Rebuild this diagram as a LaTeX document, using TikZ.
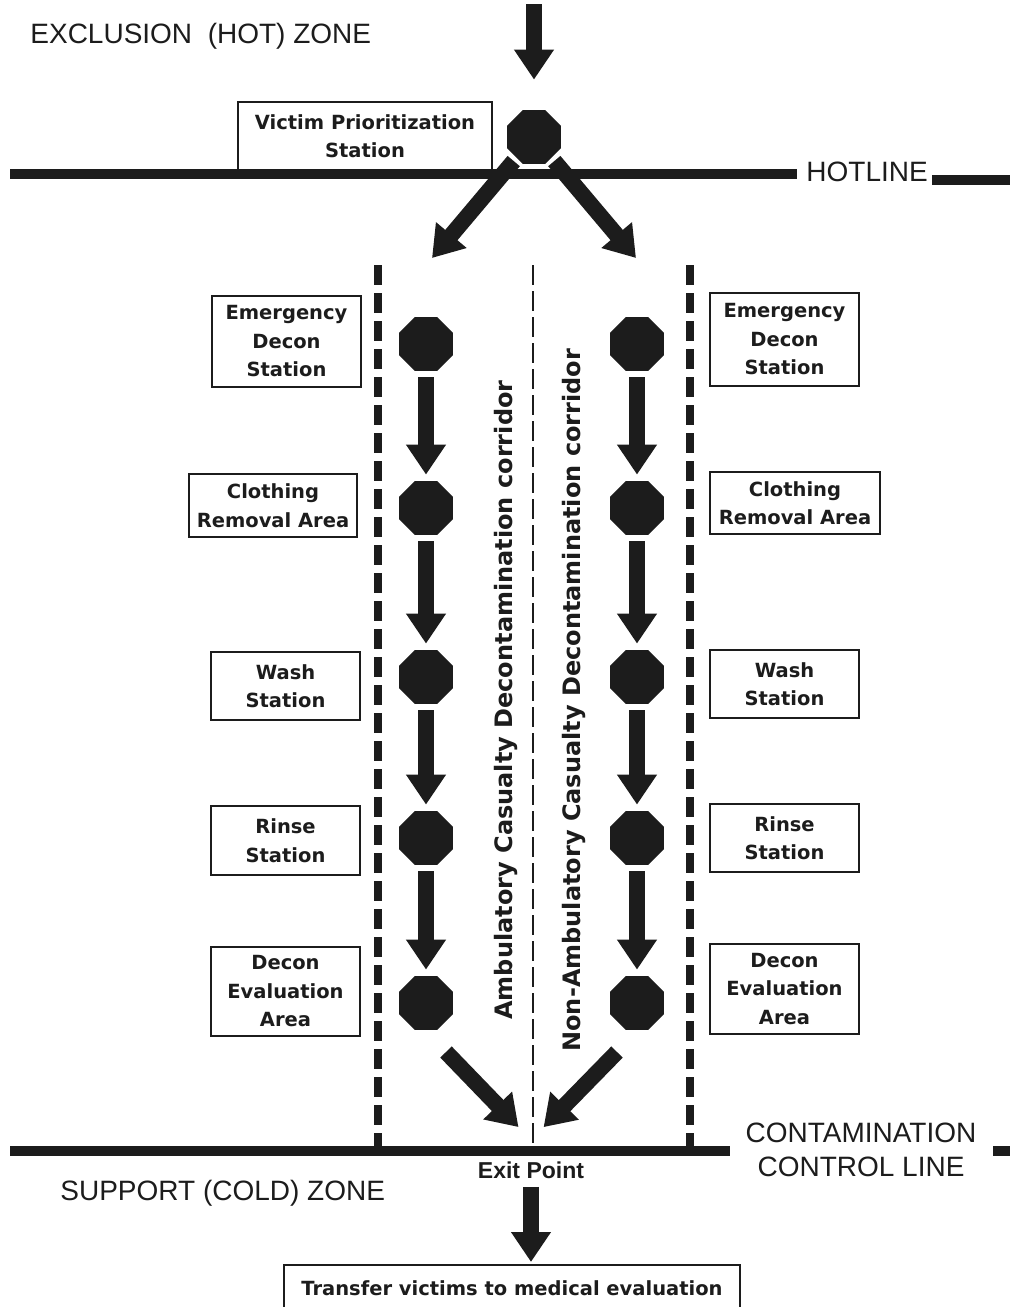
\documentclass[tikz,border=0pt]{standalone}
\usepackage{fontspec}
\setmainfont{Liberation Sans}
\newfontfamily\stationfont{DejaVu Sans}
\usepackage{xcolor}
\definecolor{ink}{HTML}{1C1C1C}
\usetikzlibrary{shapes.geometric,arrows.meta}

\begin{document}
\begin{tikzpicture}[
    x=0.5pt, y=-0.5pt,                   % one unit = one pixel, y down
    every node/.style={text=ink},
    zone/.style={inner sep=0pt, font=\fontsize{14}{17}\selectfont},
    station/.style={
        draw=ink,
        line width=0.8pt,
        inner sep=0pt,
        align=center,
        font=\stationfont\bfseries\fontsize{9.75}{14.25}\selectfont
    },
    octa/.style={regular polygon, regular polygon sides=8, fill=ink,
        draw=none, minimum size=29.2pt, inner sep=0pt},
    flow/.style={draw=ink, line width=8pt, -{Triangle[width=19pt,length=15pt]}},
    lane/.style={flow, shorten <=3pt, shorten >=3pt},
    barrier/.style={draw=ink, line width=5pt},
    fence/.style={draw=ink, line width=4pt, dash pattern=on 10pt off 4pt},
    corridor/.style={rotate=90, anchor=base west, inner sep=0pt,
        font=\stationfont\bfseries\fontsize{12}{14}\selectfont}
]
\useasboundingbox (0,0) rectangle (1010,1307);

% hot zone and hotline
\node[zone, anchor=base west] (hotzone) at (30,43) {EXCLUSION\ \ (HOT) ZONE};
\draw[barrier] (10,174) -- (797,174);
\node[zone, anchor=base west] (hotline) at (806,181) {HOTLINE};
\draw[barrier] (932,180) -- (1010,180);

\node[station, minimum width=127pt, minimum height=34pt] (vpbox) at (365,136)
    {Victim Prioritization\\Station};
\node[octa] (vp) at (534,137) {};
\coordinate (entry) at (534,4);
\coordinate (ambin) at (432,258);
\coordinate (nonin) at (636,258);
\draw[flow, shorten >=15pt] (entry) -- (vp);
\draw[flow, shorten <=2pt] (vp) -- (ambin);
\draw[flow, shorten <=2pt] (vp) -- (nonin);

% corridor fences
\draw[fence] (378,265) -- (378,1148);
\draw[fence] (690,265) -- (690,1148);
\draw[draw=ink, line width=1pt, dash pattern=on 10pt off 3pt] (533,265) -- (533,1150);

\node[corridor] (ambtxt) at (512,1020) {Ambulatory Casualty Decontamination corridor};
\node[corridor] (nonambtxt) at (580,1052) {Non-Ambulatory Casualty Decontamination corridor};

% stations of both lanes
\foreach \y [count=\i] in {344,508,677,838,1003} {
    \node[octa] (l\i) at (426,\y) {};
    \node[octa] (r\i) at (637,\y) {};
}
\foreach \i/\j in {1/2,2/3,3/4,4/5} {
    \draw[lane] (l\i) -- (l\j);
    \draw[lane] (r\i) -- (r\j);
}

% left labels
\node[station, minimum width=74.5pt, minimum height=45.5pt] (lemerg) at (286.5,341.5)
    {Emergency\\Decon\\Station};
\node[station, minimum width=84pt, minimum height=31.5pt] (lcloth) at (273,505.5)
    {Clothing\\Removal Area};
\node[station, minimum width=74.5pt, minimum height=34pt] (lwash) at (285.5,686)
    {Wash\\Station};
\node[station, minimum width=74.5pt, minimum height=34.5pt] (lrinse) at (285.5,840.5)
    {Rinse\\Station};
\node[station, minimum width=74.5pt, minimum height=44.5pt] (leval) at (285.5,991.5)
    {Decon\\Evaluation\\Area};

% right labels
\node[station, minimum width=74.5pt, minimum height=46.5pt] (remerg) at (784.5,339.5)
    {Emergency\\Decon\\Station};
\node[station, minimum width=85pt, minimum height=31pt] (rcloth) at (795,503)
    {Clothing\\Removal Area};
\node[station, minimum width=74.5pt, minimum height=34pt] (rwash) at (784.5,684)
    {Wash\\Station};
\node[station, minimum width=74.5pt, minimum height=34pt] (rrinse) at (784.5,838)
    {Rinse\\Station};
\node[station, minimum width=74.5pt, minimum height=45pt] (reval) at (784.5,989)
    {Decon\\Evaluation\\Area};

% exit
\coordinate (ambout) at (446,1052);
\coordinate (nonout) at (617,1052);
\coordinate (exit) at (531,1140);
\draw[flow, shorten >=9pt] (ambout) -- (exit);
\draw[flow, shorten >=9pt] (nonout) -- (exit);

% contamination control line and cold zone
\draw[barrier] (10,1151) -- (730,1151);
\draw[barrier] (993,1151) -- (1010,1151);
\node[zone, align=center] (ccl) at (861,1150) {CONTAMINATION\\CONTROL LINE};
\node[inner sep=0pt, font=\bfseries\fontsize{11.5}{13}\selectfont] (exitpt) at (531,1170) {Exit Point};
\node[zone, anchor=base west] (coldzone) at (60,1200) {SUPPORT (COLD) ZONE};

\node[station, minimum width=228pt, minimum height=23pt, anchor=north] (transfer) at (512,1264)
    {Transfer victims to medical evaluation};
\draw[flow, shorten <=4pt, shorten >=1pt] (exitpt.south) -- (exitpt.south |- transfer.north);

\end{tikzpicture}
\end{document}
